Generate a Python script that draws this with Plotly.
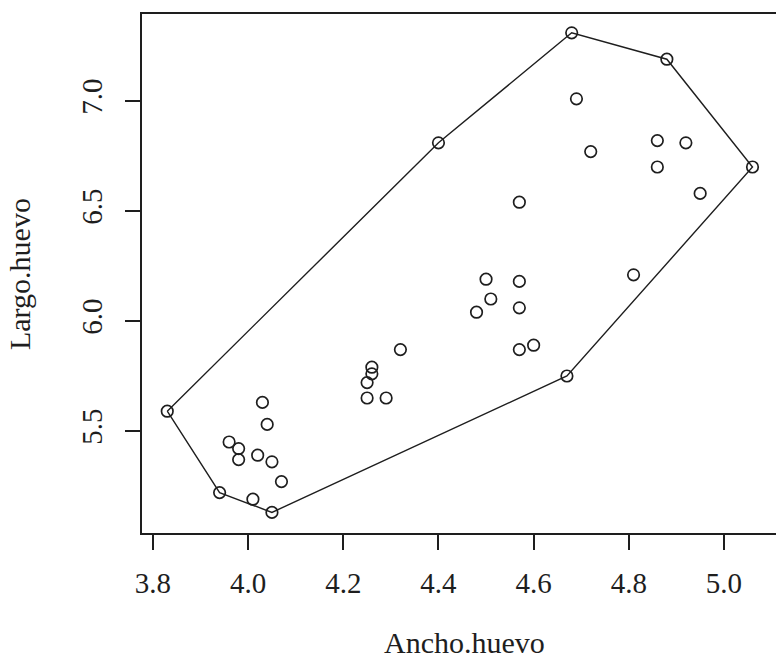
import plotly.graph_objects as go

# Egg data
ancho_huevo = [3.83, 3.94, 4.05, 4.01, 4.07, 4.05, 4.02, 3.98, 3.98, 3.96,
               4.04, 4.03, 4.25, 4.29, 4.25, 4.26, 4.26, 4.32, 4.40, 4.50,
               4.57, 4.51, 4.48, 4.57, 4.57, 4.60, 4.67, 4.57, 4.81, 4.69,
               4.72, 4.86, 4.92, 4.86, 4.95, 5.06, 4.68, 4.88]
largo_huevo = [5.59, 5.22, 5.13, 5.19, 5.27, 5.36, 5.39, 5.37, 5.42, 5.45,
               5.53, 5.63, 5.65, 5.65, 5.72, 5.76, 5.79, 5.87, 6.81, 6.19,
               6.18, 6.10, 6.04, 6.06, 5.87, 5.89, 5.75, 6.54, 6.21, 7.01,
               6.77, 6.82, 6.81, 6.70, 6.58, 6.70, 7.31, 7.19]

x_ticks = [3.8, 4.0, 4.2, 4.4, 4.6, 4.8, 5.0]
x_tick_labels = ["3.8", "4.0", "4.2", "4.4", "4.6", "4.8", "5.0"]
y_ticks = [5.5, 6.0, 6.5, 7.0]
y_tick_labels = ["5.5", "6.0", "6.5", "7.0"]


def convex_hull(xs, ys):
    pts = sorted(set(zip(xs, ys)))

    def cross(o, a, b):
        return (a[0] - o[0]) * (b[1] - o[1]) - (a[1] - o[1]) * (b[0] - o[0])

    lower = []
    for p in pts:
        while len(lower) >= 2 and cross(lower[-2], lower[-1], p) <= 0:
            lower.pop()
        lower.append(p)
    upper = []
    for p in reversed(pts):
        while len(upper) >= 2 and cross(upper[-2], upper[-1], p) <= 0:
            upper.pop()
        upper.append(p)
    hull = lower[:-1] + upper[:-1]
    hull.append(hull[0])
    return [p[0] for p in hull], [p[1] for p in hull]


hx, hy = convex_hull(ancho_huevo, largo_huevo)

ink = "#1e1e1e"
serif = "Liberation Serif, Times New Roman, serif"

fig = go.Figure()
fig.add_trace(go.Scatter(x=hx, y=hy, mode="lines",
                         line=dict(color=ink, width=1.4), hoverinfo="skip"))
fig.add_trace(go.Scatter(x=ancho_huevo, y=largo_huevo, mode="markers",
                         marker=dict(symbol="circle-open", size=11.5, color=ink,
                                     line=dict(color=ink, width=1.7))))

fig.update_layout(
    width=776, height=660,
    margin=dict(l=142, r=0, t=14, b=127),
    paper_bgcolor="white", plot_bgcolor="white",
    showlegend=False,
    font=dict(family=serif, color=ink),
)
fig.update_xaxes(
    range=[3.7769, 5.1094], tickvals=x_ticks, ticktext=x_tick_labels,
    showgrid=False, zeroline=False,
    showline=True, mirror=True, linecolor=ink, linewidth=2,
    ticks="outside", ticklen=15, tickwidth=1.5, tickcolor=ink,
    tickfont=dict(family=serif, size=29, color=ink),
    ticklabelstandoff=8,
)
fig.update_yaxes(
    range=[5.0364, 7.3955], tickvals=y_ticks, ticktext=y_tick_labels,
    showgrid=False, zeroline=False,
    showline=True, mirror=False, linecolor=ink, linewidth=2,
    ticks="outside", ticklen=15, tickwidth=1.5, tickcolor=ink,
    tickangle=-90,
    tickfont=dict(family=serif, size=29, color=ink),
    ticklabelstandoff=11,
)
fig.add_annotation(text="Ancho.huevo", xref="paper", yref="paper",
                   x=0.508, y=-0.2119, xanchor="center", yanchor="middle",
                   showarrow=False, font=dict(family=serif, size=30, color=ink))
fig.add_annotation(text="Largo.huevo", xref="paper", yref="paper",
                   x=-0.194, y=0.499, xanchor="center", yanchor="middle",
                   textangle=-90, showarrow=False,
                   font=dict(family=serif, size=30, color=ink))

fig.write_html(
    "out.html",
    config={"displayModeBar": False},
    post_script="document.body.style.margin='0';"
                "document.body.style.overflow='hidden';",
)
